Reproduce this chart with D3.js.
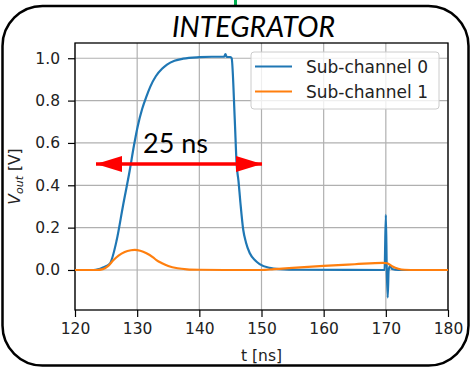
<!DOCTYPE html>
<html>
<head>
<meta charset="utf-8">
<script src="https://cdn.jsdelivr.net/npm/d3@7"></script>
<style>
  body { margin: 0; background: #fff; }
  svg { display: block; }
</style>
</head>
<body>
<script>
// time axis (ns) and the two sub-channel outputs (V)
var ch0Time = [120, 123, 123.7, 124.5, 125.6, 126.7, 127.7, 128.8, 129.5, 130.1, 130.8, 131.5, 132.1, 133, 134, 134.8, 136, 137.4, 140, 142, 144, 144.2, 144.4, 145, 145.2, 145.7, 146.0, 146.3, 146.6, 147.06, 147.5, 148.1, 149, 149.7, 151.3, 153, 156, 169.8, 170.0, 170.15, 170.3, 170.45, 170.7, 171, 172, 180];
var ch0Vout = [0, 0, 0.003, 0.012, 0.03, 0.14, 0.3, 0.47, 0.59, 0.68, 0.76, 0.82, 0.865, 0.915, 0.95, 0.97, 0.988, 0.998, 1.005, 1.007, 1.007, 1.02, 1.006, 1.006, 1.0, 0.71, 0.5, 0.42, 0.32, 0.19, 0.13, 0.08, 0.045, 0.028, 0.01, 0.004, 0.001, 0, 0.26, 0, -0.13, 0, 0.02, 0.005, 0, 0];

var ch1Time = [120, 123.5, 124.5, 125.3, 126.2, 127, 128, 129, 129.6, 130.5, 131.5, 132.5, 133.1, 134, 135, 136.5, 138, 140, 144, 150, 152, 155, 160, 165, 169.5, 170.2, 171, 172, 173, 175, 180];
var ch1Vout = [0, 0, 0.004, 0.018, 0.047, 0.068, 0.085, 0.093, 0.095, 0.091, 0.079, 0.061, 0.047, 0.032, 0.019, 0.008, 0.003, 0.001, 0, 0, 0.004, 0.01, 0.019, 0.027, 0.034, 0.032, 0.018, 0.006, 0.001, 0, 0];

var xTicks = [120, 130, 140, 150, 160, 170, 180];
var yTicks = [0.0, 0.2, 0.4, 0.6, 0.8, 1.0];
var seriesNames = ["Sub-channel 0", "Sub-channel 1"];
var seriesColors = ["#1f77b4", "#ff7f0e"];

var W = 474, H = 368;
var svg = d3.select("body").append("svg")
    .attr("width", W)
    .attr("height", H);

// plot box (note: "top" is taken by window.top)
var plotL = 75, plotR = 448, plotT = 43, plotB = 310;

var x = d3.scaleLinear().domain([120, 180]).range([plotL, plotR]);
var y = d3.scaleLinear().domain([-0.189, 1.072]).range([plotB, plotT]);

// slide frame + connector
svg.append("line")
    .attr("x1", 235.5).attr("x2", 235.5)
    .attr("y1", 0).attr("y2", 7)
    .attr("stroke", "#00b050")
    .attr("stroke-width", 3);

svg.append("rect")
    .attr("x", 2.5).attr("y", 6)
    .attr("width", 466).attr("height", 359.5)
    .attr("rx", 40).attr("ry", 40)
    .attr("fill", "none")
    .attr("stroke", "#000")
    .attr("stroke-width", 2.5);

// title
svg.append("text")
    .attr("x", 172).attr("y", 37)
    .attr("textLength", 163)
    .attr("lengthAdjust", "spacingAndGlyphs")
    .style("font-family", "Lato, 'Open Sans', sans-serif")
    .style("font-style", "italic")
    .style("font-size", "29px")
    .text("INTEGRATOR");

// grid
var grid = svg.append("g").attr("stroke", "#b0b0b0").attr("stroke-width", 1.2);
grid.selectAll(".gx").data(xTicks).enter().append("line")
    .attr("x1", d => x(d)).attr("x2", d => x(d))
    .attr("y1", plotT).attr("y2", plotB);
grid.selectAll(".gy").data(yTicks).enter().append("line")
    .attr("x1", plotL).attr("x2", plotR)
    .attr("y1", d => y(d)).attr("y2", d => y(d));

// axes
var xAxis = svg.append("g")
    .attr("transform", "translate(0," + plotB + ")")
    .call(d3.axisBottom(x).tickValues(xTicks).tickSize(7).tickPadding(6).tickFormat(d3.format("d")));
var yAxis = svg.append("g")
    .attr("transform", "translate(" + plotL + ",0)")
    .call(d3.axisLeft(y).tickValues(yTicks).tickSize(7).tickPadding(8).tickFormat(d3.format(".1f")));

[xAxis, yAxis].forEach(function(a) {
    a.select(".domain").remove();
    a.selectAll("line").attr("stroke", "#000").attr("stroke-width", 1.2);
    a.selectAll("text")
        .style("font-family", "'DejaVu Sans', sans-serif")
        .style("font-size", "15.5px")
        .attr("fill", "#222");
});

svg.append("rect")
    .attr("x", plotL).attr("y", plotT)
    .attr("width", plotR - plotL).attr("height", plotB - plotT)
    .attr("fill", "none")
    .attr("stroke", "#000")
    .attr("stroke-width", 1.3);

// lines
svg.append("clipPath").attr("id", "plotclip")
    .append("rect").attr("x", plotL).attr("y", plotT)
    .attr("width", plotR - plotL).attr("height", plotB - plotT);

var line = d3.line()
    .x(d => x(d[0]))
    .y(d => y(d[1]))
    .curve(d3.curveMonotoneX);

var series = [d3.zip(ch0Time, ch0Vout), d3.zip(ch1Time, ch1Vout)];

svg.append("g").attr("clip-path", "url(#plotclip)")
    .selectAll("path")
    .data(series)
    .enter().append("path")
    .attr("d", line)
    .attr("fill", "none")
    .attr("stroke", (d, i) => seriesColors[i])
    .attr("stroke-width", 2.2)
    .attr("stroke-linejoin", "round");

// legend
var lg = svg.append("g");
lg.append("rect")
    .attr("x", 251).attr("y", 52)
    .attr("width", 188).attr("height", 57)
    .attr("rx", 3)
    .attr("fill", "#fff").attr("fill-opacity", 0.8)
    .attr("stroke", "#cccccc");
seriesNames.forEach(function(name, i) {
    var ly = 66.5 + i * 25;
    lg.append("line")
        .attr("x1", 255).attr("x2", 292)
        .attr("y1", ly).attr("y2", ly)
        .attr("stroke", seriesColors[i])
        .attr("stroke-width", 2.2);
    lg.append("text")
        .attr("x", 306).attr("y", ly + 6)
        .style("font-family", "'DejaVu Sans', sans-serif")
        .style("font-size", "17px")
        .attr("fill", "#222")
        .text(name);
});

// axis labels
svg.append("text")
    .attr("x", (plotL + plotR) / 2).attr("y", 361)
    .attr("text-anchor", "middle")
    .style("font-family", "'DejaVu Sans', sans-serif")
    .style("font-size", "15.5px")
    .attr("fill", "#222")
    .text("t [ns]");

var yl = svg.append("text")
    .attr("transform", "translate(20," + ((plotT + plotB) / 2) + ") rotate(-90)")
    .attr("text-anchor", "middle")
    .style("font-family", "'DejaVu Sans', sans-serif")
    .style("font-size", "15.5px")
    .attr("fill", "#222");
yl.append("tspan").style("font-style", "italic").text("V");
yl.append("tspan").style("font-style", "italic").style("font-size", "11px").attr("dy", 3).text("out");
yl.append("tspan").attr("dy", -3).text(" [V]");

// 25 ns arrow annotation
svg.append("defs").append("marker")
    .attr("id", "arrowHead")
    .attr("viewBox", "0 0 26 16")
    .attr("refX", 26).attr("refY", 8)
    .attr("markerUnits", "userSpaceOnUse")
    .attr("markerWidth", 26).attr("markerHeight", 16)
    .attr("orient", "auto-start-reverse")
    .append("path")
    .attr("d", "M0,0L26,8L0,16Z")
    .attr("fill", "#ff0000");

svg.append("line")
    .attr("x1", 96).attr("x2", 262)
    .attr("y1", 164).attr("y2", 164)
    .attr("stroke", "#ff0000")
    .attr("stroke-width", 3.5)
    .attr("marker-start", "url(#arrowHead)")
    .attr("marker-end", "url(#arrowHead)");

svg.append("text")
    .attr("x", 143).attr("y", 153)
    .attr("textLength", 65)
    .attr("lengthAdjust", "spacingAndGlyphs")
    .style("font-family", "Lato, 'Open Sans', sans-serif")
    .style("font-size", "27px")
    .attr("fill", "#000")
    .text("25 ns");
</script>
</body>
</html>
